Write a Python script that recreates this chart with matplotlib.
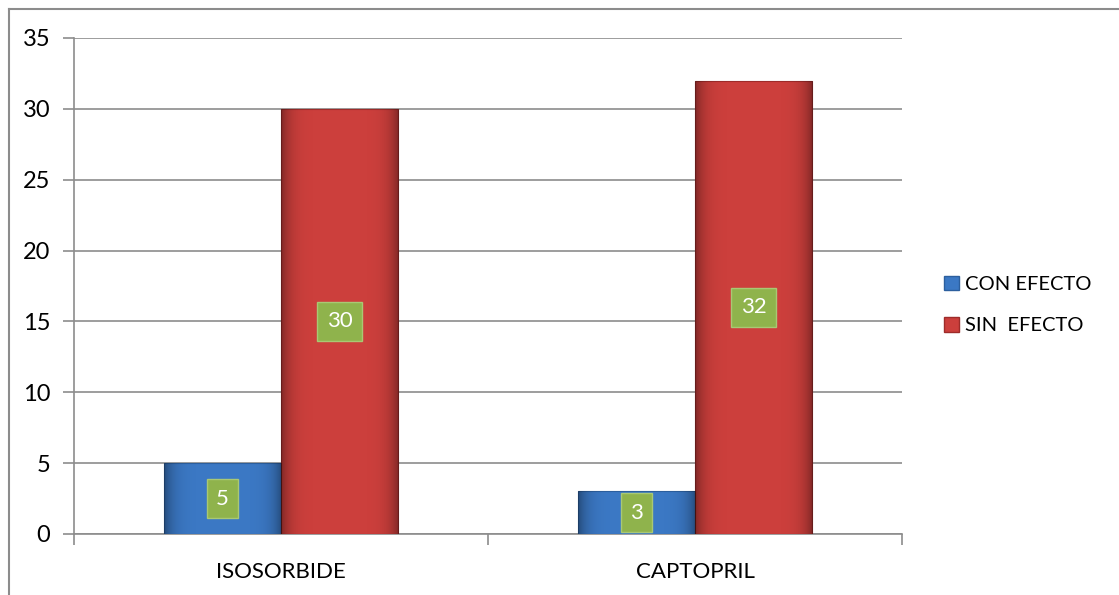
import matplotlib.pyplot as plt
import matplotlib.patches as mpatches
import matplotlib.lines as mlines
import numpy as np

categories = ["ISOSORBIDE", "CAPTOPRIL"]
series_names = ["CON EFECTO", "SIN  EFECTO"]
con_efecto = [5, 3]
sin_efecto = [30, 32]

plt.rcParams['font.family'] = ['Lato', 'DejaVu Sans']

fig = plt.figure(figsize=(11.19, 5.95), dpi=100)
ax = fig.add_axes([74 / 1119, 1 - 534 / 595, (902 - 74) / 1119, (534 - 38) / 595])

# outer chart frame: only top and left edges are visible
fy = 1 - 8.5 / 595
fx = 8.5 / 1119
fig.lines.append(mlines.Line2D([fx, 1.0], [fy, fy], transform=fig.transFigure,
                               color="#8c8c8c", linewidth=1.5))
fig.lines.append(mlines.Line2D([fx, fx], [0.0, fy], transform=fig.transFigure,
                               color="#8c8c8c", linewidth=1.5))

x = np.arange(len(categories))
width = 0.283
colors = ["#3b78c4", "#cc3f3c"]
edges = ["#2c5f9e", "#9e2c2a"]


def shaded_bar(xc, h, color, edge):
    bar = ax.bar(xc, h, width, color=color, edgecolor=edge, linewidth=0.8, zorder=3)[0]
    # soft bevel: darker near edges, lighter in the middle
    g = np.linspace(-1, 1, 64)
    shade = 1 - np.abs(g) ** 6
    img = np.zeros((1, 64, 4))
    img[..., 3] = (1 - shade) * 0.35
    im = ax.imshow(img, extent=(xc - width / 2, xc + width / 2, 0, h), aspect="auto",
                   zorder=4, interpolation="bilinear")
    im.set_clip_path(bar)
    return bar


for i in range(len(categories)):
    for j, vals in enumerate([con_efecto, sin_efecto]):
        xc = x[i] + (j - 0.5) * width
        shaded_bar(xc, vals[i], colors[j], edges[j])
        ax.text(xc, vals[i] / 2, str(vals[i]), ha="center", va="center", color="white",
                fontsize=16, zorder=6,
                bbox=dict(boxstyle="square,pad=0.42", facecolor="#8fb34c",
                          edgecolor="#a9c874", linewidth=1))

ax.set_xlim(-0.5, 1.5)
ax.set_ylim(0, 35)
ax.set_yticks(range(0, 36, 5))
ax.yaxis.grid(True, color="#8c8c8c", linewidth=1.2, zorder=0)
ax.set_axisbelow(True)

ax.set_xticks([-0.5, 0.5, 1.5])
ax.set_xticklabels([])
for i, c in enumerate(categories):
    ax.text(x[i], -2.7, c, ha="center", va="center", fontsize=16)

for side in ["top", "right"]:
    ax.spines[side].set_visible(False)
for side in ["left", "bottom"]:
    ax.spines[side].set_color("#8c8c8c")
    ax.spines[side].set_linewidth(1.2)
ax.tick_params(axis="y", length=8, color="#8c8c8c", width=1.2, labelsize=17, pad=9)
ax.tick_params(axis="x", length=8, color="#8c8c8c", width=1.2)

handles = [mpatches.Patch(facecolor=colors[k], edgecolor=edges[k]) for k in range(2)]
fig.legend(handles, series_names, loc="center left", bbox_to_anchor=(926 / 1119, 1 - 305 / 595),
           frameon=False, fontsize=14.5, handlelength=0.75, handleheight=0.75,
           handletextpad=0.3, labelspacing=1.2)

fig.savefig("out.png", dpi=100)
